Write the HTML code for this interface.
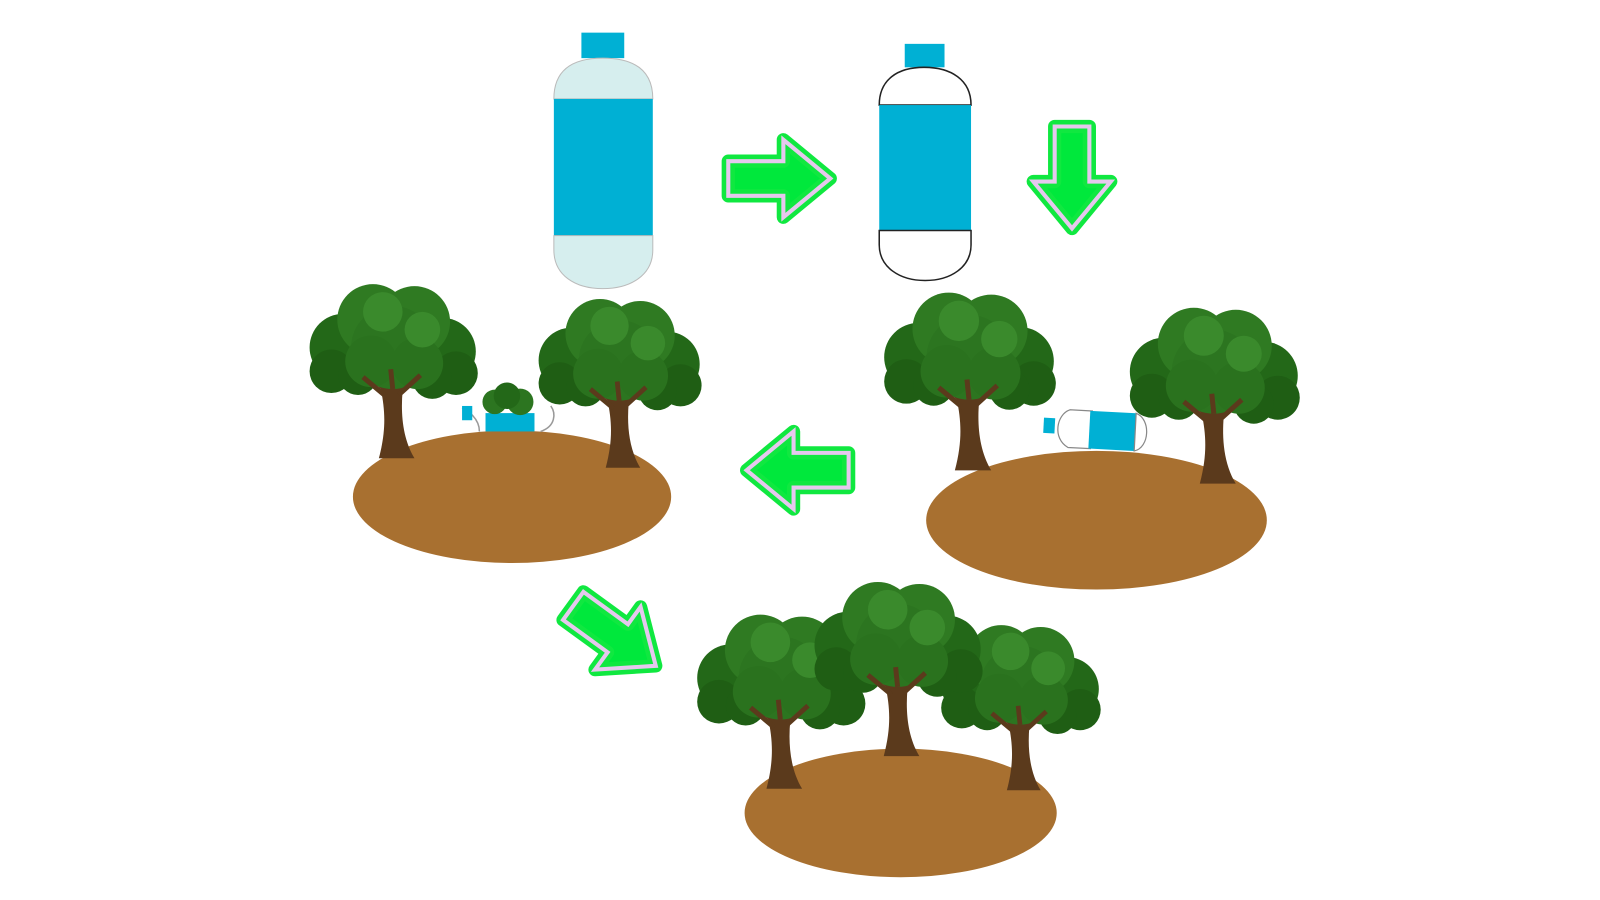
<!DOCTYPE html>
<html><head><meta charset="utf-8"><style>
html,body{margin:0;padding:0;background:#fff;width:1600px;height:900px;overflow:hidden}
svg{display:block}
</style></head><body>
<svg width="1600" height="900" viewBox="0 0 1600 900">
<defs>
  <g id="tree">
    <path d="M-14,90 C-6,60 -8,40 -12,20 L-40,-5 -34,-8 -8,12 -6,-10 2,-10 4,10 30,-12 36,-8 10,22 C8,45 10,70 22,90 Z" fill="#5b3a1c"/>
    <circle cx="-50" cy="-22" r="34" fill="#236818"/>
    <circle cx="50" cy="-18" r="34" fill="#236818"/>
    <circle cx="-20" cy="-50" r="36" fill="#2f7a22"/>
    <circle cx="22" cy="-48" r="36" fill="#2f7a22"/>
    <circle cx="0" cy="-22" r="42" fill="#2c7520"/>
    <circle cx="-62" cy="2" r="22" fill="#1f5e14"/>
    <circle cx="64" cy="4" r="22" fill="#1f5e14"/>
    <circle cx="-35" cy="6" r="20" fill="#1f5e14"/>
    <circle cx="40" cy="10" r="20" fill="#1f5e14"/>
    <circle cx="-22" cy="-8" r="26" fill="#2a721e"/>
    <circle cx="25" cy="-6" r="26" fill="#2a721e"/>
    <circle cx="-10" cy="-58" r="20" fill="#3a8a2c"/>
    <circle cx="30" cy="-40" r="18" fill="#3a8a2c"/>
    <path d="M-6,28 L-30,8 M6,26 L28,6 M0,20 L-2,0" stroke="#5b3a1c" stroke-width="5" fill="none"/>
  </g>
  <g id="arrow">
    <polygon points="0,-17 54,-17 54,-38 100,0 54,38 54,17 0,17" fill="#00e83c" stroke="#10e840" stroke-width="13" stroke-linejoin="round"/>
    <polygon points="0,-17 54,-17 54,-38 100,0 54,38 54,17 0,17" fill="none" stroke="#e6c8ee" stroke-width="4" stroke-linejoin="miter"/>
  </g>
</defs>
<g transform="scale(1.02)">
<g>
  <rect x="570" y="32" width="42" height="25" fill="#00b0d4"/>
  <path d="M543,97 C543,65 566,57 591,57 C616,57 640,65 640,97 Z" fill="#d6eeee" stroke="#bbb" stroke-width="1"/>
  <rect x="543" y="97" width="97" height="134" fill="#00b0d4"/>
  <path d="M543,231 L640,231 L640,245 C640,270 618,283 591,283 C564,283 543,270 543,245 Z" fill="#d6eeee" stroke="#bbb" stroke-width="1"/>
</g>

<use href="#arrow" transform="translate(714,175)"/>

<g>
  <rect x="887" y="43" width="39" height="23" fill="#00b0d4"/>
  <path d="M862,103 C862,78 880,66 906,66 C932,66 952,78 952,103 Z" fill="#fff" stroke="#222" stroke-width="1.5"/>
  <rect x="862" y="103" width="90" height="123" fill="#00b0d4"/>
  <path d="M862,226 L952,226 L952,240 C952,262 932,275 907,275 C882,275 862,262 862,240 Z" fill="#fff" stroke="#222" stroke-width="1.5"/>
</g>

<use href="#arrow" transform="translate(1051,124) rotate(90)"/>

<g>
  <ellipse cx="502" cy="487" rx="156" ry="65" fill="#a87030"/>
  <path d="M470,423 C470,410 458,402 453,400" fill="none" stroke="#999" stroke-width="1.5"/>
  <rect x="453" y="398" width="10" height="14" fill="#00b0d4"/>
  <path d="M530,423 C545,418 545,405 540,398" fill="none" stroke="#999" stroke-width="1.5"/>
  <rect x="476" y="405" width="48" height="18" fill="#00b0d4"/>
  <circle cx="485" cy="394" r="12" fill="#2c7520"/>
  <circle cx="510" cy="394" r="13" fill="#2c7520"/>
  <circle cx="497" cy="388" r="13" fill="#236818"/>
  <use href="#tree" transform="translate(385,362) scale(0.97)"/>
  <use href="#tree" transform="translate(607,374) scale(0.94)"/>
</g>

<g>
  <ellipse cx="1075" cy="510" rx="167" ry="68" fill="#a87030"/>
  <g transform="rotate(3 1072 421)">
    <rect x="1023" y="412" width="11" height="15" fill="#00b0d4"/>
    <path d="M1070,403 L1048,403 C1035,408 1032,432 1048,440 L1070,440 Z" fill="#fff" stroke="#888" stroke-width="1.2"/>
    <rect x="1068" y="403" width="45" height="37" fill="#00b0d4"/>
    <path d="M1113,403 C1128,408 1128,436 1113,440 Z" fill="#fff" stroke="#888" stroke-width="1.2"/>
  </g>
  <use href="#tree" transform="translate(950,372) scale(0.99)"/>
  <use href="#tree" transform="translate(1190,386) scale(0.98)"/>
</g>

<use href="#arrow" transform="translate(832,461) rotate(180)"/>
<use href="#arrow" transform="translate(562,594) rotate(36)"/>

<g>
  <ellipse cx="883" cy="797" rx="153" ry="63" fill="#a87030"/>
  <use href="#tree" transform="translate(765,686) scale(0.97)"/>
  <use href="#tree" transform="translate(1000,692) scale(0.92)"/>
  <use href="#tree" transform="translate(880,654) scale(0.97)"/>
</g>
</g>
</svg>
</body></html>
